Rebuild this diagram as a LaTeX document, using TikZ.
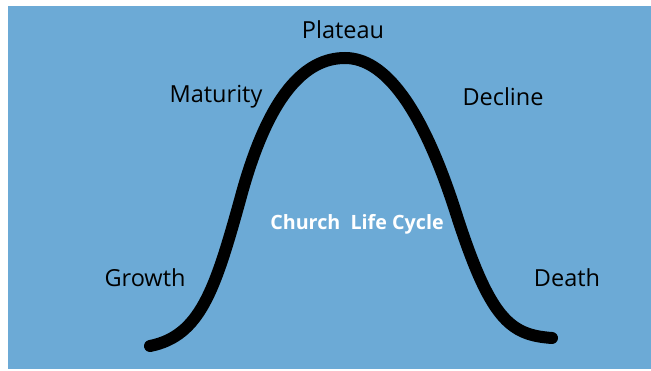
\documentclass[tikz,border=0pt]{standalone}
\usepackage{fontspec}
\setmainfont{Open Sans}
\definecolor{bgblue}{RGB}{108,170,214}
\begin{document}
\begin{tikzpicture}[x=1pt,y=-1pt,
  lbl/.style={font=\fontsize{23.5}{25}\selectfont, text=black, inner sep=0pt},
  title/.style={font=\fontsize{19.7}{21}\selectfont\bfseries, text=white, inner sep=0pt},
  curve/.style={line width=12pt, line cap=round, line join=round, black}]
\useasboundingbox (0,0) rectangle (651,371);
\fill[white] (0,0) rectangle (651,371);
\fill[bgblue] (8,6) rectangle (651,369);
\coordinate (s) at (150,346);
\coordinate (p1) at (240,200);
\coordinate (top) at (345,58);
\coordinate (p2) at (455,210);
\coordinate (e) at (552,338);
\draw[curve] (s) .. controls (200,336) and (215,290) .. (p1)
  .. controls (268,95) and (305,58) .. (top)
  .. controls (385,58) and (422,108) .. (p2)
  .. controls (490,320) and (510,335) .. (e);
\node[lbl] (plateau) at (343,30) {Plateau};
\node[lbl] (maturity) at (216,97) {Maturity};
\node[lbl] (decline) at (503,97) {Decline};
\node[lbl] (growth) at (145,278) {Growth};
\node[lbl] (death) at (567,278) {Death};
\node[title] (cl) at (357,224) {Church\ \ Life Cycle};
\end{tikzpicture}
\end{document}
